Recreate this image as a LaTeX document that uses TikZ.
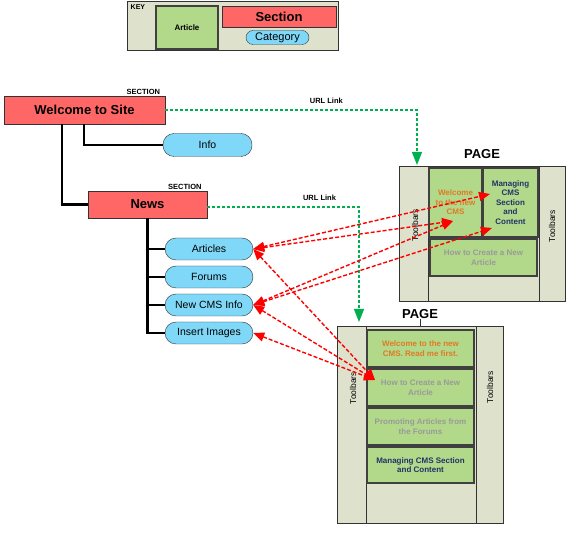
\documentclass[tikz,border=0pt]{standalone}
\usepackage{fontspec}
\setmainfont{Liberation Sans}
\usetikzlibrary{arrows.meta}
\usetikzlibrary{positioning}
\definecolor{secred}{HTML}{FF6666}
\definecolor{catblue}{HTML}{80D8F8}
\definecolor{artgreen}{HTML}{B2D88A}
\definecolor{keybg}{HTML}{DEE2CD}
\definecolor{linkgreen}{HTML}{00B050}
\definecolor{txtorange}{HTML}{E07A25}
\definecolor{txtnavy}{HTML}{1F3468}
\definecolor{txtgray}{HTML}{9A9A9A}
\def\sz#1#2{\fontsize{#1}{#2}\selectfont}

\begin{document}
\begin{tikzpicture}[x=1pt,y=-1pt,
		section/.style={draw=black!80,fill=secred,inner sep=0pt,font=\bfseries\sz{13}{15}},
		category/.style={draw=black!80,fill=catblue,inner sep=0pt,rounded corners=11pt,
			minimum width=88pt,minimum height=22pt,font=\sz{10.5}{12}},
		article/.style={draw=black!75,line width=1.2pt,fill=artgreen,inner sep=1pt,
			align=center,font=\bfseries\sz{8}{9.5}},
		pagebox/.style={draw=black!80,line width=1pt,fill=keybg},
		tbtext/.style={rotate=90,font=\sz{8.5}{10}},
		sectag/.style={anchor=south east,inner sep=1pt,font=\bfseries\sz{7.5}{9}},
		pagetag/.style={inner sep=1pt,font=\bfseries\sz{13}{15}},
		linktag/.style={above=2pt,text=black,font=\bfseries\sz{7.5}{9}},
		tree/.style={line width=2.8pt,line join=miter},
		urllink/.style={linkgreen,line width=1.4pt,dash pattern=on 3pt off 2pt,
			-{Triangle[length=13pt,width=10pt]}},
		ref/.style={red,line width=1.4pt,dash pattern=on 4pt off 2pt,
			{Triangle[length=11pt,width=9pt]}-{Triangle[length=11pt,width=9pt]}}]
	\useasboundingbox (0,0) rectangle (566,540);
	
	% key
	\node[pagebox,minimum width=211pt,minimum height=49pt] (K) at (232.5,26.5) {};
	\node[anchor=north west,inner sep=0pt,font=\bfseries\sz{7}{8}] (Kt) at ([shift={(4,3)}]K.north west) {KEY};
	\node[article,minimum width=62pt,minimum height=43pt] (Ka) at (187,27.5) {Article};
	\node[section,minimum width=114pt,minimum height=21pt] (Ks) at (279,16.5) {Section};
	\node[category,minimum width=63pt,minimum height=14pt,rounded corners=7pt,
		font=\sz{11}{13}] (Kc) at (277.5,37.5) {Category};
	
	% site tree
	\node[section,minimum width=161pt,minimum height=28pt] (Site) at (84.5,110) {Welcome to Site};
	\node[sectag] at ([xshift=-4pt]Site.north east) {SECTION};
	\node[category,minimum width=89pt,minimum height=23pt] (Info) at (207.5,145) {Info};
	\node[section,minimum width=119pt,minimum height=27pt] (News) at (147.5,204.5) {News};
	\node[sectag] at ([xshift=-4.5pt]News.north east) {SECTION};
	\node[category] (Art) at (209,249) {Articles};
	\node[category] (For) at (209,277) {Forums};
	\node[category] (Cms) at (209,305) {New CMS Info};
	\node[category] (Img) at (209,333) {Insert Images};
	
	\draw[tree] ([xshift=-0.5pt]Site.south) |- (Info.west);
	\draw[tree] ([xshift=-22.5pt]Site.south) |- (News.west);
	\foreach \c in {Art,For,Cms,Img}
		\draw[tree] (News.south) |- (\c.west);
	
	% page 1
	\node[pagebox,minimum width=166pt,minimum height=135pt] (P1) at (482,234.5) {};
	\node[pagetag,above=7pt of P1] (L1) {PAGE};
	\node[pagebox,minimum width=29pt,minimum height=135pt] (T1l) at (413.5,234.5) {};
	\node[pagebox,minimum width=26pt,minimum height=135pt] (T1r) at (552,234.5) {};
	\node[tbtext] at (415,225) {Toolbars};
	\node[tbtext] at (552,226) {Toolbars};
	\node[article,text=txtorange,minimum width=53pt,minimum height=69pt] (w1) at (455.5,202.5)
		{Welcome\\to the new\\CMS};
	\node[article,text=txtnavy,minimum width=55pt,minimum height=69pt] (m1) at (510.5,202.5)
		{Managing\\CMS\\Section\\and\\Content};
	\node[article,text=txtgray,minimum width=107pt,minimum height=37pt] (h1) at (483.5,257.5)
		{How to Create a New\\Article};
	
	% page 2
	\node[pagebox,minimum width=166pt,minimum height=197pt] (P2) at (420,425.5) {};
	\node[pagetag,above=7pt of P2] (L2) {PAGE};
	\draw[black!80,line width=1pt] (L2) -- (P2);
	\node[pagebox,minimum width=29pt,minimum height=197pt] (T2l) at (351.5,425.5) {};
	\node[pagebox,minimum width=27pt,minimum height=197pt] (T2r) at (489.5,425.5) {};
	\node[tbtext] at (353,388) {Toolbars};
	\node[tbtext] at (490,387) {Toolbars};
	\node[article,text=txtorange,minimum width=107pt,minimum height=37pt] (w2) at (420.5,348.5)
		{Welcome to the new\\CMS. Read me first.};
	\node[article,text=txtgray,minimum width=107pt,minimum height=37pt] (h2) at (420.5,387.5)
		{How to Create a New\\Article};
	\node[article,text=txtgray,minimum width=107pt,minimum height=37pt] (p2) at (420.5,426.5)
		{Promoting Articles from\\the Forums};
	\node[article,text=txtnavy,minimum width=107pt,minimum height=36pt] (m2) at (420.5,465)
		{Managing CMS Section\\and Content};
	
	% url links
	\coordinate (u1) at (417,165);
	\coordinate (u2) at (359,322);
	\draw[urllink] (Site.east) -| node[pos=0.32,linktag] {URL Link} (u1);
	\draw[urllink] ([yshift=-2.5pt]News.east) -| node[pos=0.37,linktag] {URL Link} (u2);
	
	% article references
	\coordinate (m1a) at (490,194);
	\coordinate (w1a) at (453,221);
	\coordinate (m1b) at (492,228);
	\coordinate (h2a) at (375,380);
	\path[ref]
		(Art.east) edge (m1a)
		(Art.east) edge (w1a)
		(Cms.east) edge (w1a)
		(Cms.east) edge (m1b)
		(Art.east) edge (h2a)
		(Cms.east) edge (h2a)
		(Img.east) edge (h2a);
\end{tikzpicture}
\end{document}
